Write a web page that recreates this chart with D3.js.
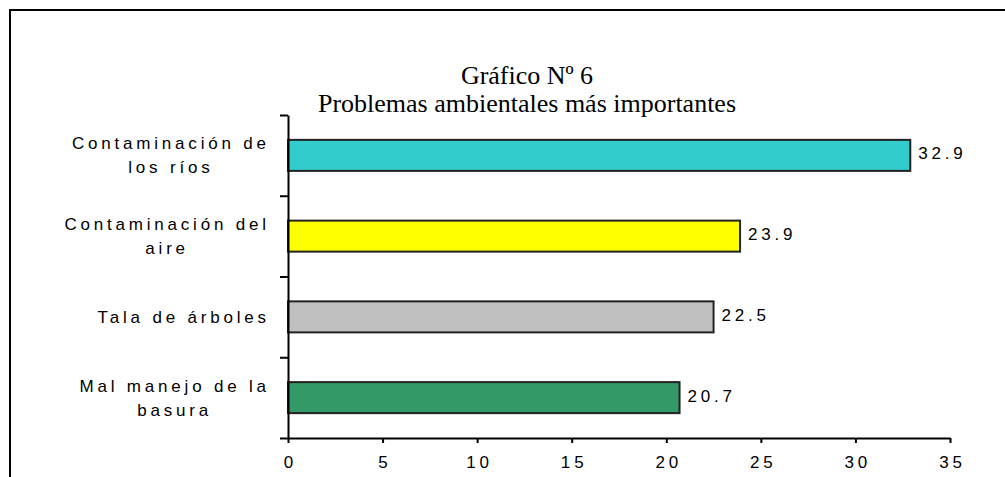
<!DOCTYPE html>
<meta charset="utf-8">
<html>
<head>
<style>
body { margin: 0; background: #fff; }
.lbl, .tick text, .val {
  font-family: "Liberation Sans", Arial, sans-serif;
  font-size: 17px;
  letter-spacing: 3.8px;
  fill: #000;
}
.title {
  font-family: "Liberation Serif", "Times New Roman", serif;
  font-size: 26px;
  fill: #000;
}
</style>
</head>
<body>
<script src="https://cdnjs.cloudflare.com/ajax/libs/d3/7.8.5/d3.min.js"></script>
<script>

var categories = [
  ["Contaminación de", "los ríos"],
  ["Contaminación del", "aire"],
  ["Tala de árboles"],
  ["Mal manejo de la", "basura"]
];
var values = [32.9, 23.9, 22.5, 20.7];
var colors = ["#33cccc", "#ffff00", "#c0c0c0", "#339966"];
var xTicks = [0, 5, 10, 15, 20, 25, 30, 35];
var titleLines = ["Gráfico Nº 6", "Problemas ambientales más importantes"];

var width = 1005, height = 477;
var plotLeft = 288, plotRight = 950, plotTop = 115, plotBottom = 438;
var ls = 3.8; // letter spacing

var svg = d3.select("body").append("svg")
  .attr("width", width)
  .attr("height", height);

// outer frame
svg.append("rect")
  .attr("x", 10).attr("y", 10)
  .attr("width", 1000).attr("height", 480)
  .attr("fill", "none")
  .attr("stroke", "#000")
  .attr("stroke-width", 2);

var x = d3.scaleLinear().domain([0, 35]).range([plotLeft, plotRight]);

var keys = d3.range(categories.length);
var y = d3.scaleBand().domain(keys).range([plotTop, plotBottom])
  .paddingInner(0.616).paddingOuter(0.308);

var yEdges = d3.scaleLinear().domain([0, categories.length]).range([plotTop, plotBottom]);

// title
svg.selectAll(".title")
  .data(titleLines)
  .enter().append("text")
  .attr("class", "title")
  .attr("x", 527)
  .attr("y", function(d, i) { return 84 + i * 28; })
  .attr("text-anchor", "middle")
  .text(function(d) { return d; });

// bars
svg.selectAll(".bar")
  .data(values)
  .enter().append("rect")
  .attr("class", "bar")
  .attr("x", x(0))
  .attr("y", function(d, i) { return y(i); })
  .attr("width", function(d) { return x(d) - x(0); })
  .attr("height", y.bandwidth())
  .attr("fill", function(d, i) { return colors[i]; })
  .attr("stroke", "#222")
  .attr("stroke-width", 2);

// value labels
svg.selectAll(".val")
  .data(values)
  .enter().append("text")
  .attr("class", "val")
  .attr("x", function(d) { return x(d) + 8; })
  .attr("y", function(d, i) { return y(i) + y.bandwidth() / 2 + 4; })
  .text(function(d) { return d.toFixed(1); });

// x axis
var xAxis = d3.axisBottom(x).tickValues(xTicks).tickSize(5).tickSizeOuter(0)
  .tickFormat(d3.format("d"));
var gx = svg.append("g")
  .attr("transform", "translate(0," + plotBottom + ")")
  .call(xAxis);
gx.attr("font-family", null).attr("font-size", null);
gx.select(".domain").attr("stroke", "#000").attr("stroke-width", 2);
gx.selectAll(".tick line").attr("stroke", "#000").attr("stroke-width", 2);
gx.selectAll(".tick text")
  .attr("y", 18).attr("dy", "0.71em")
  .attr("dx", ls / 2);

// y axis: ticks on category boundaries
var yAxis = d3.axisLeft(yEdges).tickValues(d3.range(categories.length + 1))
  .tickSize(8).tickSizeOuter(0).tickFormat("");
var gy = svg.append("g")
  .attr("transform", "translate(" + plotLeft + ",0)")
  .call(yAxis);
gy.select(".domain").attr("stroke", "#000").attr("stroke-width", 2);
gy.selectAll(".tick line").attr("stroke", "#000").attr("stroke-width", 2);

// category labels: block right-aligned, lines centered inside block
var labelRight = 266;
categories.forEach(function(lines, i) {
  var cy = y(i) + y.bandwidth() / 2;
  var g = svg.append("g");
  var texts = g.selectAll("text")
    .data(lines)
    .enter().append("text")
    .attr("class", "lbl")
    .attr("text-anchor", "middle")
    .attr("y", function(d, j) {
      return cy + 6 + (j - (lines.length - 1) / 2) * 24;
    })
    .text(function(d) { return d; });
  var maxW = 0;
  texts.each(function() {
    maxW = Math.max(maxW, this.getComputedTextLength() - ls);
  });
  texts.attr("x", labelRight - maxW / 2 + ls / 2);
});

</script>
</body>
</html>
